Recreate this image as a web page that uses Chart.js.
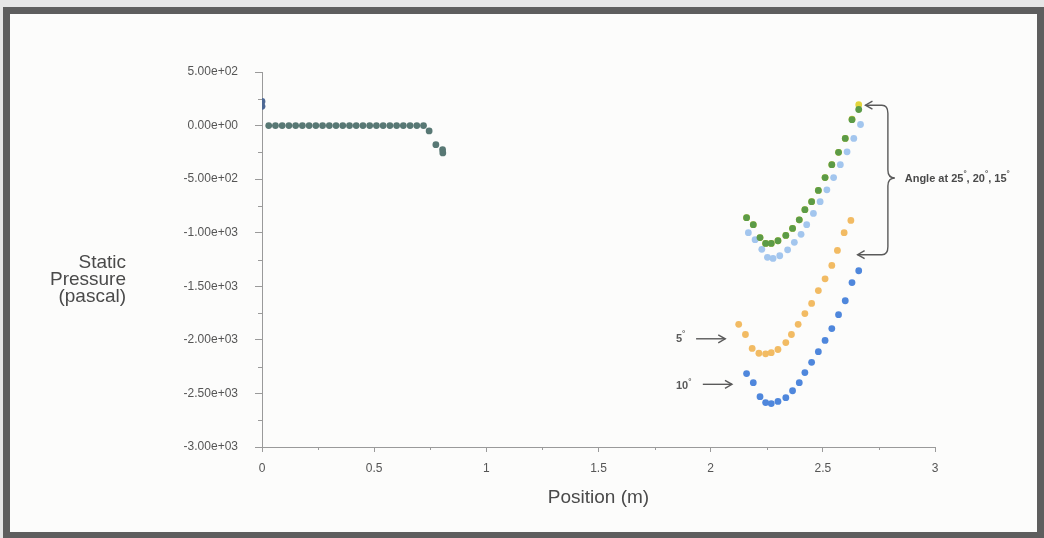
<!DOCTYPE html>
<html>
<head>
<meta charset="utf-8">
<script src="https://cdn.jsdelivr.net/npm/chart.js@4/dist/chart.umd.min.js"></script>
<style>
  html, body { margin: 0; padding: 0; background: #e6e6e6; }
  #frame {
    position: absolute; left: 3px; top: 7px; width: 1027px; height: 518px;
    border: 7px solid #5e5e5e; background: #fcfcfb;
  }
  #chart { position: absolute; left: 0; top: 0; }
</style>
</head>
<body>
<div id="frame"></div>
<canvas id="chart" width="1044" height="538"></canvas>
<script>
// inlet section (shared by all angles)
const faceX = [0, 0];
const faceY = [225, 180];
const inletX = [0.03, 0.06, 0.09, 0.12, 0.15, 0.18, 0.21, 0.24, 0.27, 0.30, 0.33, 0.36,
                0.39, 0.42, 0.45, 0.48, 0.51, 0.54, 0.57, 0.60, 0.63, 0.66, 0.69, 0.72,
                0.745, 0.775, 0.805, 0.806];
const inletY = [0, 0, 0, 0, 0, 0, 0, 0, 0, 0, 0, 0,
                0, 0, 0, 0, 0, 0, 0, 0, 0, 0, 0, 0,
                -50, -178, -225, -255];

// diffuser section, one series per angle
const angleX = [2.16, 2.19, 2.22, 2.245, 2.27, 2.30, 2.335, 2.365, 2.395, 2.42, 2.45, 2.48,
                2.51, 2.54, 2.57, 2.60, 2.63, 2.66];
const angle25 = [-860, -925, -1045, -1100, -1100, -1075, -1025, -960, -880, -785, -710, -605,
                 -485, -365, -250, -120, 55, 150];
const angle20 = [-1000, -1065, -1155, -1230, -1240, -1215, -1160, -1090, -1015, -925, -820, -710,
                 -600, -485, -365, -245, -120, 10];
const angle15 = [-860, -925, -1045, -1100, -1100, -1075, -1025, -960, -880, -785, -710, -605,
                 -485, -365, -250, -120, 60, 195];
const angle5X = [2.125, 2.155, 2.185, 2.215, 2.245, 2.27, 2.30, 2.335, 2.36, 2.39, 2.42, 2.45,
                 2.48, 2.51, 2.54, 2.565, 2.595, 2.625];
const angle5 = [-1855, -1950, -2080, -2125, -2130, -2120, -2090, -2025, -1950, -1855, -1755, -1660,
                -1540, -1430, -1305, -1165, -1000, -885];
const angle10 = [-2315, -2400, -2530, -2585, -2595, -2575, -2540, -2475, -2400, -2305, -2210, -2110,
                 -2005, -1895, -1765, -1635, -1465, -1355];

const xTicks = [0, 0.5, 1, 1.5, 2, 2.5, 3];
const yTicks = [500, 0, -500, -1000, -1500, -2000, -2500, -3000];

const FONT = "'Liberation Sans', Arial, sans-serif";

function pts(xs, ys) {
    return ys.map((y, i) => ({ x: xs[i], y: y }));
}

function sci(v) {
    const parts = Number(v).toExponential(2).split('e');
    const n = parseInt(parts[1], 10);
    return parts[0] + 'e' + (n < 0 ? '-' : '+') + String(Math.abs(n)).padStart(2, '0');
}

function dot(label, data, color) {
    return {
        label: label,
        data: data,
        showLine: false,
        pointRadius: 3.4,
        pointBorderWidth: 0,
        pointBackgroundColor: color,
        pointBorderColor: color
    };
}

function arrowHead(ctx, x, y, dir) {
    // dir: 1 = pointing right, -1 = pointing left
    ctx.beginPath();
    ctx.moveTo(x - dir * 7, y - 4);
    ctx.lineTo(x, y);
    ctx.lineTo(x - dir * 7, y + 4);
    ctx.stroke();
}

function degText(ctx, parts, x, y, size) {
    // draws text with raised small degree marks, left aligned
    let cx = x;
    parts.forEach(p => {
        if (p === '°') {
            ctx.font = 'bold ' + Math.round(size * 0.7) + 'px ' + FONT;
            ctx.fillText('°', cx, y - size * 0.45);
            cx += ctx.measureText('°').width;
        } else {
            ctx.font = 'bold ' + size + 'px ' + FONT;
            ctx.fillText(p, cx, y);
            cx += ctx.measureText(p).width;
        }
    });
    return cx;
}

const extras = {
    id: 'extras',
    afterDraw(chart) {
        const ctx = chart.ctx;
        const xs = chart.scales.x, ys = chart.scales.y;
        const area = chart.chartArea;
        const px = v => xs.getPixelForValue(v);
        const py = v => ys.getPixelForValue(v);
        ctx.save();

        // minor ticks
        ctx.strokeStyle = '#9a9a9a';
        ctx.lineWidth = 1;
        ctx.beginPath();
        for (let v = 250; v > -3000; v -= 500) {
            const y = Math.round(py(v)) + 0.5;
            ctx.moveTo(area.left - 4, y);
            ctx.lineTo(area.left, y);
        }
        for (let v = 0.25; v < 3; v += 0.5) {
            const x = Math.round(px(v)) + 0.5;
            ctx.moveTo(x, area.bottom);
            ctx.lineTo(x, area.bottom + 3);
        }
        ctx.stroke();

        // axis titles
        ctx.fillStyle = '#4a4a4a';
        ctx.font = '19px ' + FONT;
        ctx.textAlign = 'right';
        ctx.textBaseline = 'middle';
        ctx.fillText('Static', 126, 263);
        ctx.fillText('Pressure', 126, 280);
        ctx.fillText('(pascal)', 126, 297);
        ctx.textAlign = 'center';
        ctx.fillText('Position (m)', (area.left + area.right) / 2, 498);

        // angle annotations
        ctx.strokeStyle = '#5a5a5a';
        ctx.fillStyle = '#5a5a5a';
        ctx.lineWidth = 1.4;
        ctx.textAlign = 'left';

        // 5 deg
        let y5 = py(-1990);
        degText(ctx, ['5', '°'], px(1.845), y5, 11);
        ctx.beginPath();
        ctx.moveTo(px(1.935), y5);
        ctx.lineTo(px(2.065), y5);
        ctx.stroke();
        arrowHead(ctx, px(2.065), y5, 1);

        // 10 deg
        let y10 = py(-2415);
        degText(ctx, ['10', '°'], px(1.845), y10 + 2, 11);
        ctx.beginPath();
        ctx.moveTo(px(1.965), y10);
        ctx.lineTo(px(2.095), y10);
        ctx.stroke();
        arrowHead(ctx, px(2.095), y10, 1);

        // brace for 25, 20, 15 deg
        const xb = px(2.79), yT = py(190), yB = py(-1205), ym = py(-490);
        const tipT = px(2.69), tipB = px(2.655);
        ctx.beginPath();
        ctx.moveTo(tipT, yT);
        ctx.lineTo(xb - 6, yT);
        ctx.quadraticCurveTo(xb, yT, xb, yT + 8);
        ctx.lineTo(xb, ym - 8);
        ctx.quadraticCurveTo(xb, ym, xb + 7, ym);
        ctx.quadraticCurveTo(xb, ym, xb, ym + 8);
        ctx.lineTo(xb, yB - 8);
        ctx.quadraticCurveTo(xb, yB, xb - 6, yB);
        ctx.lineTo(tipB, yB);
        ctx.stroke();
        arrowHead(ctx, tipT, yT, -1);
        arrowHead(ctx, tipB, yB, -1);

        ctx.fillStyle = '#4a4a4a';
        degText(ctx, ['Angle at 25', '°', ', 20', '°', ', 15', '°'], px(2.865), ym + 1, 11);

        ctx.restore();
    }
};

new Chart(document.getElementById('chart'), {
    type: 'scatter',
    data: {
        datasets: [
            dot('inlet face', pts(faceX, faceY), '#4d6894'),
            dot('inlet', pts(inletX, inletY), '#587874'),
            dot('25°', pts(angleX, angle25), '#5c9b47'),
            dot('20°', pts(angleX.map(v => v + 0.008), angle20), '#a3c6ee'),
            dot('15°', pts(angleX, angle15), '#e3d53c'),
            dot('5°', pts(angle5X, angle5), '#f2bb63'),
            dot('10°', pts(angleX, angle10), '#4f87dc')
        ]
    },
    options: {
        responsive: false,
        animation: false,
        layout: { padding: { left: 162, right: 109, top: 72, bottom: 51 } },
        plugins: {
            legend: { display: false },
            tooltip: { enabled: false }
        },
        scales: {
            x: {
                type: 'linear',
                min: 0,
                max: 3,
                afterFit: s => { s.height = 40; },
                afterBuildTicks: s => { s.ticks = xTicks.map(v => ({ value: v })); },
                border: { color: '#9a9a9a', width: 1 },
                grid: { drawOnChartArea: false, drawTicks: true, tickLength: 5, tickColor: '#9a9a9a' },
                ticks: {
                    padding: 9,
                    color: '#555',
                    font: { family: FONT, size: 12 },
                    maxRotation: 0,
                    callback: v => String(v)
                }
            },
            y: {
                type: 'linear',
                min: -3000,
                max: 500,
                afterFit: s => { s.width = 100; },
                afterBuildTicks: s => { s.ticks = yTicks.map(v => ({ value: v })); },
                border: { color: '#9a9a9a', width: 1 },
                grid: { drawOnChartArea: false, drawTicks: true, tickLength: 7, tickColor: '#9a9a9a' },
                ticks: {
                    padding: 17,
                    color: '#555',
                    font: { family: FONT, size: 12 },
                    callback: v => sci(v)
                }
            }
        }
    },
    plugins: [extras]
});
</script>
</body>
</html>
